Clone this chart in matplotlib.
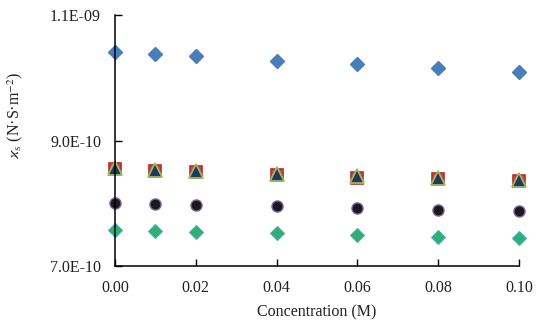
import matplotlib
matplotlib.use("Agg")
import matplotlib.pyplot as plt

# concentration (M)
conc = [0.00, 0.01, 0.02, 0.04, 0.06, 0.08, 0.10]

# kappa_s values per series (N.S.m^-2)
blue_diamond = [1.041e-9, 1.038e-9, 1.035e-9, 1.027e-9, 1.022e-9, 1.016e-9, 1.009e-9]
red_square = [8.54e-10, 8.51e-10, 8.50e-10, 8.45e-10, 8.41e-10, 8.39e-10, 8.35e-10]
navy_triangle = [8.56e-10, 8.53e-10, 8.52e-10, 8.47e-10, 8.43e-10, 8.41e-10, 8.37e-10]
black_circle = [8.00e-10, 7.99e-10, 7.97e-10, 7.95e-10, 7.92e-10, 7.89e-10, 7.88e-10]
green_diamond = [7.57e-10, 7.56e-10, 7.54e-10, 7.52e-10, 7.49e-10, 7.46e-10, 7.45e-10]

x_ticks = [0.00, 0.02, 0.04, 0.06, 0.08, 0.10]
x_labels = ["0.00", "0.02", "0.04", "0.06", "0.08", "0.10"]
y_ticks = [7.0e-10, 9.0e-10, 1.1e-9]
y_labels = ["7.0E-10", "9.0E-10", "1.1E-09"]

plt.rcParams["font.family"] = ["Liberation Serif", "DejaVu Serif"]
plt.rcParams["mathtext.fontset"] = "stix"
txt = "#231f20"

fig = plt.figure(figsize=(5.4, 3.26), dpi=100)
ax = fig.add_axes([0.213, 0.184, 0.748, 0.770])

ax.plot(conc, blue_diamond, ls="none", marker="D", ms=7.0,
        mfc="#4a7ebb", mec="#4a7ebb")
ax.plot(conc, red_square, ls="none", marker="s", ms=9.0,
        mfc="#be4b48", mec="#c0282d", mew=1.2)
ax.plot(conc, navy_triangle, ls="none", marker="^", ms=9.8,
        mfc="#1f3864", mec="#9bbb59", mew=1.3)
ax.plot(conc, black_circle, ls="none", marker="o", ms=8.0,
        mfc="#1a1a1a", mec="#8064a2", mew=1.0)
ax.plot(conc, green_diamond, ls="none", marker="D", ms=6.8,
        mfc="#2fb06e", mec="#4bacc6", mew=0.8)

ax.set_xlim(0, 0.10)
ax.set_ylim(7.0e-10, 1.1e-9)
ax.set_xticks(x_ticks)
ax.set_xticklabels(x_labels)
ax.set_yticks(y_ticks)
ax.set_yticklabels(y_labels)
ax.tick_params(direction="in", length=5, width=1, labelsize=11.5,
               colors="black", labelcolor=txt)
ax.tick_params(axis="x", pad=10)
ax.tick_params(axis="y", pad=10)

for side in ["top", "right"]:
    ax.spines[side].set_visible(False)
for side in ["left", "bottom"]:
    ax.spines[side].set_linewidth(1.1)
for m in ax.lines:
    m.set_clip_on(False)

ax.set_xlabel("Concentration (M)", fontsize=11.5, color=txt, labelpad=6)
ax.set_ylabel(r"$\varkappa_{\rm s}$ (N·S·m$^{-2}$)", fontsize=11.5, color=txt)
ax.yaxis.set_label_coords(-0.222, 0.60)

fig.savefig("out.png", dpi=100)
